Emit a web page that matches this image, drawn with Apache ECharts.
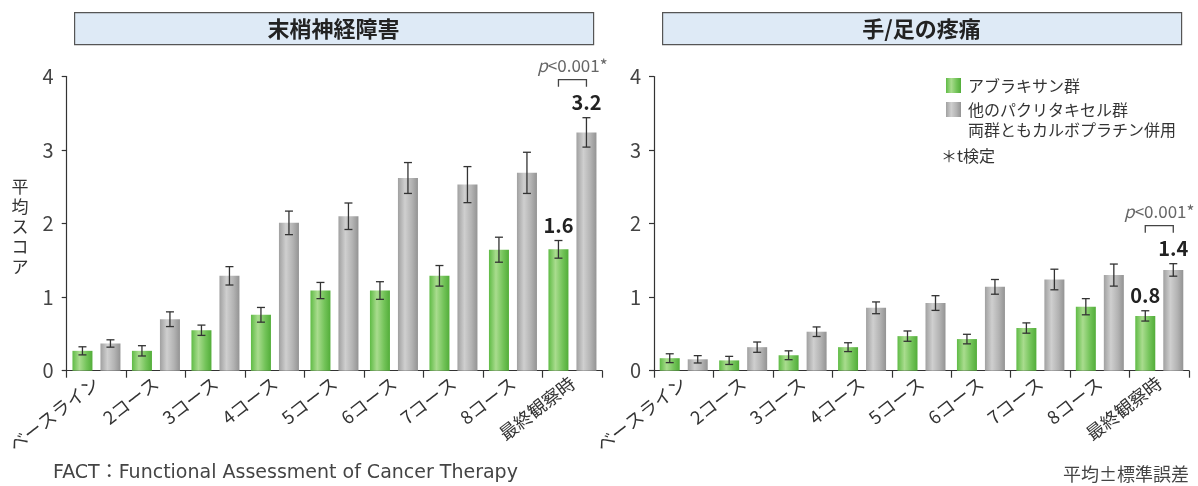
<!DOCTYPE html>
<html>
<head>
<meta charset="utf-8">
<script src="https://cdn.jsdelivr.net/npm/echarts@6/dist/echarts.min.js"></script>
<style>
html,body{margin:0;padding:0;background:#fff;}
#chart{width:1198px;height:486px;}
</style>
</head>
<body>
<div id="chart"></div>
<script>
// ---- data ----
const categories = ['ベースライン','2コース','3コース','4コース','5コース','6コース','7コース','8コース','最終観察時'];
const yTicks = [0, 1, 2, 3, 4];
const panelTitles = ['末梢神経障害', '手/足の疼痛'];
const seriesNames = ['アブラキサン群', '他のパクリタキセル群'];

const neuroAbraxane     = [0.27, 0.27, 0.55, 0.76, 1.09, 1.09, 1.29, 1.645, 1.65];
const neuroAbraxaneSE   = [0.055, 0.07, 0.07, 0.10, 0.11, 0.12, 0.14, 0.17, 0.12];
const neuroPaclitaxel   = [0.37, 0.70, 1.29, 2.01, 2.10, 2.62, 2.53, 2.69, 3.24];
const neuroPaclitaxelSE = [0.05, 0.10, 0.125, 0.16, 0.18, 0.21, 0.245, 0.28, 0.20];

const painAbraxane      = [0.17, 0.14, 0.21, 0.32, 0.47, 0.43, 0.58, 0.87, 0.745];
const painAbraxaneSE    = [0.06, 0.055, 0.06, 0.06, 0.07, 0.065, 0.07, 0.11, 0.07];
const painPaclitaxel    = [0.155, 0.32, 0.53, 0.855, 0.92, 1.14, 1.24, 1.30, 1.37];
const painPaclitaxelSE  = [0.05, 0.07, 0.065, 0.08, 0.10, 0.10, 0.14, 0.15, 0.085];

const neuroLabels = ['1.6', '3.2'];
const painLabels  = ['0.8', '1.4'];
const pText = '{i|p}<0.001*';

// ---- styles ----
const FONT = '"Noto Sans CJK JP", "Noto Sans", sans-serif';
const green = {type:'linear', x:0, y:0, x2:1, y2:0, colorStops:[
  {offset:0, color:'#5fbb45'},{offset:0.35, color:'#a9dc8e'},{offset:0.7, color:'#74c45a'},{offset:1, color:'#52ad39'}]};
const gray = {type:'linear', x:0, y:0, x2:1, y2:0, colorStops:[
  {offset:0, color:'#a0a0a0'},{offset:0.35, color:'#cfcfcf'},{offset:0.7, color:'#b3b3b3'},{offset:1, color:'#939393'}]};
const BAR_W = 20, BAR_GAP = 0.4;
const OFFSET = (BAR_W + BAR_W * BAR_GAP) / 2;

function errData(vals, se) {
  return vals.map((v, i) => [i, v - se[i], v + se[i]]);
}
function errSeries(gi, vals, se, sign) {
  return {
    type: 'custom', xAxisIndex: gi, yAxisIndex: gi, z: 5, silent: true,
    data: errData(vals, se),
    renderItem: function (params, api) {
      const lo = api.coord([api.value(0), api.value(1)]);
      const hi = api.coord([api.value(0), api.value(2)]);
      const x = lo[0] + sign * OFFSET;
      const st = {stroke: '#333', lineWidth: 1.3};
      return {type: 'group', children: [
        {type:'line', shape:{x1:x, y1:lo[1], x2:x, y2:hi[1]}, style:st},
        {type:'line', shape:{x1:x-4, y1:lo[1], x2:x+4, y2:lo[1]}, style:st},
        {type:'line', shape:{x1:x-4, y1:hi[1], x2:x+4, y2:hi[1]}, style:st}
      ]};
    }
  };
}
function annotSeries(gi, gVals, gSE, pVals, pSE, labels) {
  const last = categories.length - 1;
  return {
    type: 'custom', xAxisIndex: gi, yAxisIndex: gi, z: 6, silent: true,
    data: [[last, gVals[last] + gSE[last], pVals[last] + pSE[last]]],
    renderItem: function (params, api) {
      const pg = api.coord([api.value(0), api.value(1)]);
      const pp = api.coord([api.value(0), api.value(2)]);
      const xg = pg[0] - OFFSET, xp = pp[0] + OFFSET;
      const top = pp[1] - 38;
      return {type:'group', children: [
        {type:'text', x: xg, y: pg[1] - 15, style:{text: labels[0], fill:'#222', font:'bold 20px ' + FONT, align:'center', verticalAlign:'middle'}},
        {type:'text', x: xp, y: pp[1] - 15, style:{text: labels[1], fill:'#222', font:'bold 20px ' + FONT, align:'center', verticalAlign:'middle'}},
        {type:'polyline', shape:{points:[[xg, top+7],[xg, top],[xp, top],[xp, top+7]]}, style:{stroke:'#444', lineWidth:1.3, fill:null}},
        {type:'text', x: (xg + xp) / 2, y: top - 14, style:{text: pText, fill:'#666', fontSize: 17, fontFamily: FONT, align:'center', verticalAlign:'middle',
          rich:{i:{fontStyle:'italic', fontSize:17, fontFamily: FONT, fill:'#666'}}}}
      ]};
    }
  };
}
function barSeries(gi, name, vals, color) {
  return {type:'bar', name: name, xAxisIndex: gi, yAxisIndex: gi, data: vals, barWidth: BAR_W, barGap: (BAR_GAP*100)+'%',
    itemStyle:{color: color}, silent:true};
}

const grids = [
  {left: 66.7, top: 76.5, width: 535.5, height: 294.2},
  {left: 654, top: 76.5, width: 535, height: 294.2}
];
function xAxis(gi) {
  return {type:'category', gridIndex: gi, data: categories,
    axisLine:{lineStyle:{color:'#333', width:1.2}},
    axisTick:{show:true, length:7, lineStyle:{color:'#333', width:1.2}},
    axisLabel:{rotate:38, fontSize:18, color:'#333', fontFamily: FONT, margin:10, interval:0}};
}
function yAxis(gi) {
  return {type:'value', gridIndex: gi, min: yTicks[0], max: yTicks[yTicks.length-1], interval: 1,
    axisLine:{show:true, lineStyle:{color:'#333', width:1.2}},
    axisTick:{show:true, length:5, lineStyle:{color:'#333', width:1.2}},
    splitLine:{show:false},
    axisLabel:{fontSize:20, color:'#444', fontFamily: FONT, margin:13}};
}

const chart = echarts.init(document.getElementById('chart'), null, {renderer:'canvas'});
const titleBoxes = [{x:74, w:519}, {x:662, w:519}];
const graphic = [];
titleBoxes.forEach((b, i) => {
  graphic.push({type:'rect', left:b.x, top:12, shape:{width:b.w, height:32}, style:{fill:'#deeaf6', stroke:'#555', lineWidth:1.2}});
  graphic.push({type:'text', x:b.x + b.w/2, y:28.5, style:{text: panelTitles[i], font:'bold 22px ' + FONT, fill:'#222', align:'center', verticalAlign:'middle'}});
});
graphic.push({type:'text', x:20, y:227, style:{text:'平\n均\nス\nコ\nア', font:'17px ' + FONT, lineHeight:20, fill:'#333', align:'center', verticalAlign:'middle'}});
// legend
graphic.push({type:'rect', left:946, top:78, shape:{width:15, height:15}, style:{fill: green}});
graphic.push({type:'text', x:968, y:85.5, style:{text: seriesNames[0], font:'16px ' + FONT, fill:'#333', verticalAlign:'middle'}});
graphic.push({type:'rect', left:946, top:102, shape:{width:15, height:15}, style:{fill: gray}});
graphic.push({type:'text', x:968, y:110, style:{text: seriesNames[1], font:'16px ' + FONT, fill:'#333', verticalAlign:'middle'}});
graphic.push({type:'text', x:968, y:130, style:{text: '両群ともカルボプラチン併用', font:'16px ' + FONT, fill:'#333', verticalAlign:'middle'}});
graphic.push({type:'text', x:941, y:156, style:{text: '＊t検定', font:'16px ' + FONT, fill:'#333', verticalAlign:'middle'}});
// footers
graphic.push({type:'text', x:53, y:473, style:{text:'FACT：Functional Assessment of Cancer Therapy', font:'19px "DejaVu Sans", ' + FONT, fill:'#444', verticalAlign:'middle'}});
graphic.push({type:'text', x:1189, y:474, style:{text:'平均±標準誤差', font:'18px ' + FONT, fill:'#444', align:'right', verticalAlign:'middle'}});

chart.setOption({
  animation: false,
  grid: grids,
  xAxis: [xAxis(0), xAxis(1)],
  yAxis: [yAxis(0), yAxis(1)],
  graphic: graphic,
  series: [
    barSeries(0, seriesNames[0], neuroAbraxane, green),
    barSeries(0, seriesNames[1], neuroPaclitaxel, gray),
    barSeries(1, seriesNames[0], painAbraxane, green),
    barSeries(1, seriesNames[1], painPaclitaxel, gray),
    errSeries(0, neuroAbraxane, neuroAbraxaneSE, -1),
    errSeries(0, neuroPaclitaxel, neuroPaclitaxelSE, 1),
    errSeries(1, painAbraxane, painAbraxaneSE, -1),
    errSeries(1, painPaclitaxel, painPaclitaxelSE, 1),
    annotSeries(0, neuroAbraxane, neuroAbraxaneSE, neuroPaclitaxel, neuroPaclitaxelSE, neuroLabels),
    annotSeries(1, painAbraxane, painAbraxaneSE, painPaclitaxel, painPaclitaxelSE, painLabels)
  ]
});
</script>
</body>
</html>
